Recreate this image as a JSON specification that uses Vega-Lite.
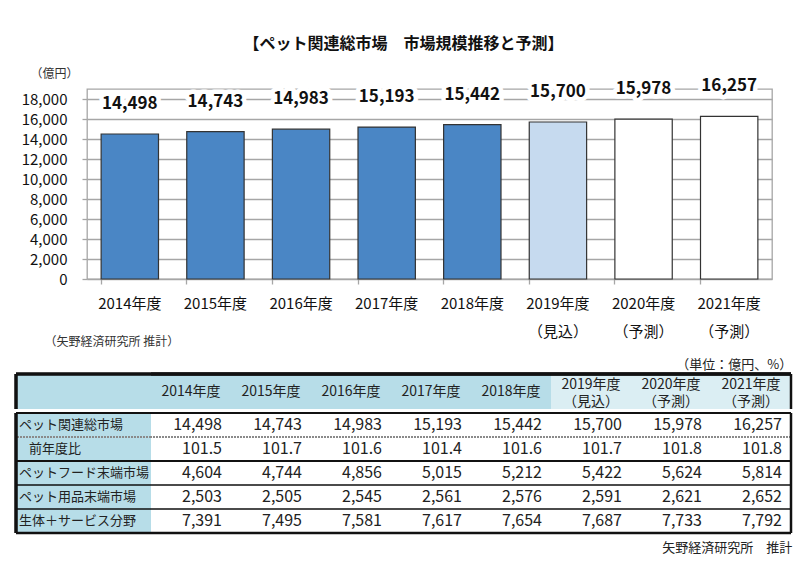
{
  "$schema": "https://vega.github.io/schema/vega-lite/v6.json",
  "background": "white",
  "padding": {"left": 14, "top": 36, "right": 8, "bottom": 5},
  "config": {
    "font": "Noto Sans CJK JP",
    "view": {"stroke": null},
    "concat": {"spacing": 0}
  },
  "title": {"text": "【ペット関連総市場　市場規模推移と予測】", "fontSize": 16, "fontWeight": "bold", "color": "#111", "anchor": "middle", "offset": 14},
  "datasets": {
    "market": [
      {"period": "2014年度", "value": 14498, "status": "実績"},
      {"period": "2015年度", "value": 14743, "status": "実績"},
      {"period": "2016年度", "value": 14983, "status": "実績"},
      {"period": "2017年度", "value": 15193, "status": "実績"},
      {"period": "2018年度", "value": 15442, "status": "実績"},
      {"period": "2019年度\n（見込）", "value": 15700, "status": "見込"},
      {"period": "2020年度\n（予測）", "value": 15978, "status": "予測"},
      {"period": "2021年度\n（予測）", "value": 16257, "status": "予測"}
    ],
    "items": [
      {"item": "ペット関連総市場"},
      {"item": "前年度比"},
      {"item": "ペットフード末端市場"},
      {"item": "ペット用品末端市場"},
      {"item": "生体＋サービス分野"}
    ],
    "table": [
      {"item": "ペット関連総市場", "period": "2014年度", "value": 14498},
      {"item": "ペット関連総市場", "period": "2015年度", "value": 14743},
      {"item": "ペット関連総市場", "period": "2016年度", "value": 14983},
      {"item": "ペット関連総市場", "period": "2017年度", "value": 15193},
      {"item": "ペット関連総市場", "period": "2018年度", "value": 15442},
      {"item": "ペット関連総市場", "period": "2019年度\n（見込）", "value": 15700},
      {"item": "ペット関連総市場", "period": "2020年度\n（予測）", "value": 15978},
      {"item": "ペット関連総市場", "period": "2021年度\n（予測）", "value": 16257},
      {"item": "前年度比", "period": "2014年度", "value": 101.5},
      {"item": "前年度比", "period": "2015年度", "value": 101.7},
      {"item": "前年度比", "period": "2016年度", "value": 101.6},
      {"item": "前年度比", "period": "2017年度", "value": 101.4},
      {"item": "前年度比", "period": "2018年度", "value": 101.6},
      {"item": "前年度比", "period": "2019年度\n（見込）", "value": 101.7},
      {"item": "前年度比", "period": "2020年度\n（予測）", "value": 101.8},
      {"item": "前年度比", "period": "2021年度\n（予測）", "value": 101.8},
      {"item": "ペットフード末端市場", "period": "2014年度", "value": 4604},
      {"item": "ペットフード末端市場", "period": "2015年度", "value": 4744},
      {"item": "ペットフード末端市場", "period": "2016年度", "value": 4856},
      {"item": "ペットフード末端市場", "period": "2017年度", "value": 5015},
      {"item": "ペットフード末端市場", "period": "2018年度", "value": 5212},
      {"item": "ペットフード末端市場", "period": "2019年度\n（見込）", "value": 5422},
      {"item": "ペットフード末端市場", "period": "2020年度\n（予測）", "value": 5624},
      {"item": "ペットフード末端市場", "period": "2021年度\n（予測）", "value": 5814},
      {"item": "ペット用品末端市場", "period": "2014年度", "value": 2503},
      {"item": "ペット用品末端市場", "period": "2015年度", "value": 2505},
      {"item": "ペット用品末端市場", "period": "2016年度", "value": 2545},
      {"item": "ペット用品末端市場", "period": "2017年度", "value": 2561},
      {"item": "ペット用品末端市場", "period": "2018年度", "value": 2576},
      {"item": "ペット用品末端市場", "period": "2019年度\n（見込）", "value": 2591},
      {"item": "ペット用品末端市場", "period": "2020年度\n（予測）", "value": 2621},
      {"item": "ペット用品末端市場", "period": "2021年度\n（予測）", "value": 2652},
      {"item": "生体＋サービス分野", "period": "2014年度", "value": 7391},
      {"item": "生体＋サービス分野", "period": "2015年度", "value": 7495},
      {"item": "生体＋サービス分野", "period": "2016年度", "value": 7581},
      {"item": "生体＋サービス分野", "period": "2017年度", "value": 7617},
      {"item": "生体＋サービス分野", "period": "2018年度", "value": 7654},
      {"item": "生体＋サービス分野", "period": "2019年度\n（見込）", "value": 7687},
      {"item": "生体＋サービス分野", "period": "2020年度\n（予測）", "value": 7733},
      {"item": "生体＋サービス分野", "period": "2021年度\n（予測）", "value": 7792}
    ]
  },
  "spacing": 10,
  "vconcat": [
    {
      "hconcat": [
        {
          "width": 4,
          "height": 190,
          "data": {"values": []},
          "mark": "text"
        },
        {
          "width": 685,
          "height": 190,
          "data": {"name": "market"},
          "view": {"stroke": "#a6a6a6", "strokeWidth": 1.3},
          "encoding": {
            "y": {
              "field": "value", "type": "quantitative",
              "scale": {"domain": [0, 19000], "nice": false},
              "axis": {
                "values": [0, 2000, 4000, 6000, 8000, 10000, 12000, 14000, 16000, 18000],
                "format": ",.0f", "grid": true, "gridColor": "#a6a6a6", "gridWidth": 1.3,
                "domain": false, "tickSize": 5, "tickColor": "#a6a6a6", "tickWidth": 1.3,
                "labelFontSize": 15, "labelColor": "#111", "labelPadding": 15,
                "title": "（億円）", "titleAngle": 0, "titleX": -33, "titleY": -16,
                "titleAlign": "center", "titleBaseline": "middle", "titleFontSize": 12,
                "titleFontWeight": "normal", "titleColor": "#333"
              }
            }
          },
          "layer": [
            {
              "mark": {"type": "bar", "stroke": "#333333", "strokeWidth": 1.2},
              "encoding": {
                "x": {
                  "field": "period", "type": "nominal", "sort": null,
                  "scale": {"paddingInner": 0.33, "paddingOuter": 0.165},
                  "axis": {
                    "orient": "bottom", "labelExpr": "split(datum.value, '\\n')", "labelAngle": 0,
                    "labelFontSize": 15, "labelLineHeight": 28, "labelColor": "#111", "labelPadding": 17,
                    "ticks": false, "tickSize": 0, "domain": false, "grid": false,
                    "title": "（矢野経済研究所 推計）", "titleX": -43, "titleY": 62, "titleAlign": "left",
                    "titleBaseline": "middle", "titleFontSize": 12, "titleFontWeight": "normal", "titleColor": "#333"
                  }
                },
                "fill": {
                  "field": "status", "type": "nominal",
                  "scale": {"domain": ["実績", "見込", "予測"], "range": ["#4a86c5", "#c6daef", "#ffffff"]},
                  "legend": null
                }
              }
            },
            {
              "mark": {"type": "text", "fontSize": 17, "fontWeight": "bold", "dy": -30, "stroke": "white", "strokeWidth": 9, "strokeJoin": "round", "fill": "white"},
              "encoding": {
                "x": {"field": "period", "type": "nominal", "sort": null, "axis": null},
                "text": {"field": "value", "type": "quantitative", "format": ","}
              }
            },
            {
              "mark": {"type": "text", "fontSize": 17, "fontWeight": "bold", "dy": -30, "color": "#111"},
              "encoding": {
                "x": {
                  "field": "period", "type": "nominal", "sort": null,
                  "axis": {"orient": "bottom", "labels": false, "ticks": true, "tickSize": 5, "tickColor": "#a6a6a6", "tickWidth": 1.3, "bandPosition": 0, "domain": false, "grid": false, "title": null}
                },
                "text": {"field": "value", "type": "quantitative", "format": ","}
              }
            }
          ],
          "resolve": {"axis": {"x": "independent"}}
        }
      ]
    },
    {
      "title": {"text": "（単位：億円、%）", "anchor": "end", "fontSize": 13, "fontWeight": "normal", "color": "#222", "offset": 1},
      "spacing": 0,
      "vconcat": [
        {
          "spacing": 0,
          "bounds": "flush",
          "hconcat": [
            {
              "width": 135,
              "height": 35,
              "view": {"fill": "#b7dde8", "stroke": null},
              "data": {"name": "items"},
              "layer": [
                {
                  "mark": {"type": "rule", "color": "#111", "strokeWidth": 2.5},
                  "encoding": {"x": {"datum": 0, "type": "quantitative", "scale": {"domain": [0, 1]}, "axis": null}}
                },
                {
                  "mark": {"type": "rule", "color": "#111", "strokeWidth": 2.5},
                  "encoding": {"y": {"datum": 1, "type": "quantitative", "scale": {"domain": [0, 1]}, "axis": null}}
                }
              ]
            },
            {
              "width": 640,
              "height": 35,
              "data": {"name": "market"},
              "layer": [
                {
                  "mark": {"type": "rect"},
                  "encoding": {
                    "x": {"field": "period", "type": "nominal", "sort": null, "scale": {"paddingInner": 0, "paddingOuter": 0}, "axis": null},
                    "fill": {"condition": {"test": "datum.status === '実績'", "value": "#b7dde8"}, "value": "#dbeef3"}
                  }
                },
                {
                  "transform": [{"filter": "datum.status === '実績'"}],
                  "mark": {"type": "text", "fontSize": 14, "baseline": "middle", "align": "center", "color": "#222"},
                  "encoding": {
                    "x": {"field": "period", "type": "nominal", "sort": null, "axis": null},
                    "y": {"datum": 0.5, "type": "quantitative", "scale": {"domain": [0, 1]}, "axis": null},
                    "text": {"field": "period", "type": "nominal"}
                  }
                },
                {
                  "transform": [{"filter": "datum.status !== '実績'"}],
                  "mark": {"type": "text", "fontSize": 14, "lineHeight": 17, "lineBreak": "\n", "baseline": "middle", "align": "center", "dy": -7, "color": "#222"},
                  "encoding": {
                    "x": {"field": "period", "type": "nominal", "sort": null, "axis": null},
                    "y": {"datum": 0.5, "type": "quantitative", "axis": null},
                    "text": {"field": "period", "type": "nominal"}
                  }
                },
                {
                  "mark": {"type": "rule", "color": "#111", "strokeWidth": 2.5},
                  "encoding": {"y": {"datum": 1, "type": "quantitative", "axis": null}}
                },
                {
                  "transform": [{"filter": "indexof(datum.period, '2021') === 0"}],
                  "mark": {"type": "rule", "color": "#111", "strokeWidth": 2.5},
                  "encoding": {"x": {"field": "period", "type": "nominal", "sort": null, "bandPosition": 1, "axis": null}}
                }
              ]
            }
          ]
        },
        {
          "spacing": 0,
          "bounds": "flush",
          "title": {"text": "矢野経済研究所　推計", "orient": "bottom", "anchor": "end", "fontSize": 13, "fontWeight": "normal", "color": "#222", "offset": 8},
          "hconcat": [
            {
              "width": 135,
              "height": 120,
              "view": {"fill": "#b7dde8", "stroke": null},
              "data": {"name": "items"},
              "layer": [
                {
                  "transform": [{"filter": "datum.item !== '前年度比'"}],
                  "mark": {"type": "text", "align": "left", "baseline": "middle", "fontSize": 13, "dx": 3, "color": "#222"},
                  "encoding": {
                    "x": {"datum": 0, "type": "quantitative", "scale": {"domain": [0, 1]}, "axis": null},
                    "y": {"field": "item", "type": "nominal", "sort": null, "scale": {"domain": ["ペット関連総市場", "前年度比", "ペットフード末端市場", "ペット用品末端市場", "生体＋サービス分野"], "paddingInner": 0, "paddingOuter": 0}, "axis": null},
                    "text": {"field": "item", "type": "nominal"}
                  }
                },
                {
                  "transform": [{"filter": "datum.item === '前年度比'"}],
                  "mark": {"type": "text", "align": "left", "baseline": "middle", "fontSize": 13, "dx": 13, "color": "#222"},
                  "encoding": {
                    "x": {"datum": 0, "type": "quantitative"},
                    "y": {"field": "item", "type": "nominal", "sort": null},
                    "text": {"field": "item", "type": "nominal"}
                  }
                },
                {
                  "mark": {"type": "rule"},
                  "encoding": {
                    "y": {"field": "item", "type": "nominal", "sort": null, "bandPosition": 0},
                    "color": {"condition": {"test": "datum.item === '前年度比'", "value": "#8a8a8a"}, "value": "#111"},
                    "strokeWidth": {"condition": [{"test": "datum.item === '前年度比'", "value": 2}, {"test": "datum.item === 'ペット関連総市場' || datum.item === 'ペットフード末端市場'", "value": 2.2}], "value": 1.3},
                    "strokeDash": {"condition": {"test": "datum.item === '前年度比'", "value": [2, 1]}, "value": [1, 0]}
                  }
                },
                {
                  "transform": [{"filter": "datum.item === '生体＋サービス分野'"}],
                  "mark": {"type": "rule", "color": "#111", "strokeWidth": 2.5},
                  "encoding": {"y": {"field": "item", "type": "nominal", "sort": null, "bandPosition": 1}}
                },
                {
                  "mark": {"type": "rule", "color": "#111", "strokeWidth": 2.5},
                  "encoding": {"x": {"datum": 0, "type": "quantitative"}}
                }
              ]
            },
            {
              "width": 640,
              "height": 120,
              "data": {"name": "table"},
              "layer": [
                {
                  "transform": [{"filter": "datum.item !== '前年度比'"}],
                  "mark": {"type": "text", "align": "right", "baseline": "middle", "fontSize": 16, "dx": -9, "color": "#222"},
                  "encoding": {
                    "x": {"field": "period", "type": "nominal", "sort": null, "bandPosition": 1, "scale": {"paddingInner": 0, "paddingOuter": 0}, "axis": null},
                    "y": {"field": "item", "type": "nominal", "sort": null, "scale": {"domain": ["ペット関連総市場", "前年度比", "ペットフード末端市場", "ペット用品末端市場", "生体＋サービス分野"], "paddingInner": 0, "paddingOuter": 0}, "axis": null},
                    "text": {"field": "value", "type": "quantitative", "format": ","}
                  }
                },
                {
                  "transform": [{"filter": "datum.item === '前年度比'"}],
                  "mark": {"type": "text", "align": "right", "baseline": "middle", "fontSize": 16, "dx": -9, "color": "#222"},
                  "encoding": {
                    "x": {"field": "period", "type": "nominal", "sort": null, "bandPosition": 1},
                    "y": {"field": "item", "type": "nominal", "sort": null},
                    "text": {"field": "value", "type": "quantitative", "format": ".1f"}
                  }
                },
                {
                  "data": {"name": "items"},
                  "mark": {"type": "rule"},
                  "encoding": {
                    "y": {"field": "item", "type": "nominal", "sort": null, "bandPosition": 0},
                    "color": {"condition": {"test": "datum.item === '前年度比'", "value": "#8a8a8a"}, "value": "#111"},
                    "strokeWidth": {"condition": [{"test": "datum.item === '前年度比'", "value": 2}, {"test": "datum.item === 'ペット関連総市場' || datum.item === 'ペットフード末端市場'", "value": 2.2}], "value": 1.3},
                    "strokeDash": {"condition": {"test": "datum.item === '前年度比'", "value": [2, 1]}, "value": [1, 0]}
                  }
                },
                {
                  "data": {"name": "items"},
                  "transform": [{"filter": "datum.item === '生体＋サービス分野'"}],
                  "mark": {"type": "rule", "color": "#111", "strokeWidth": 2.5},
                  "encoding": {"y": {"field": "item", "type": "nominal", "sort": null, "bandPosition": 1}}
                },
                {
                  "transform": [{"filter": "datum.item === '生体＋サービス分野' && indexof(datum.period, '2021') === 0"}],
                  "mark": {"type": "rule", "color": "#111", "strokeWidth": 2.5},
                  "encoding": {"x": {"field": "period", "type": "nominal", "sort": null, "bandPosition": 1}}
                }
              ]
            }
          ]
        }
      ]
    }
  ]
}
